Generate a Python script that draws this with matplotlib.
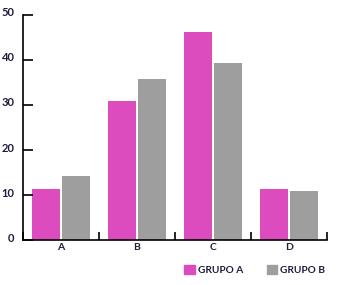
import numpy as np
import matplotlib
matplotlib.use('Agg')
import matplotlib.pyplot as plt
import matplotlib.transforms as mtransforms
from matplotlib.patches import Patch

# Chart data
categories = ['A', 'B', 'C', 'D']
grupo_a = [11.4, 30.8, 46.1, 11.4]
grupo_b = [14.1, 35.7, 39.2, 10.8]
y_ticks = [0, 10, 20, 30, 40, 50]

pink = '#dc4cbe'
gray = '#9e9e9e'
text_color = '#1c1c3c'

plt.rcParams['font.family'] = ['Lato', 'DejaVu Sans']

fig = plt.figure(figsize=(3.47, 2.85), dpi=100)
ax = fig.add_axes([0.0663, 0.158, 0.876, 0.791])

x = np.arange(len(categories)) + 0.5
width = 0.368
ax.bar(x - 0.197, grupo_a, width, color=pink)
ax.bar(x + 0.197, grupo_b, width, color=gray)

ax.set_xlim(0, len(categories))
ax.set_ylim(0, 50)

# y ticks pointing inward, labels sit left of the spine
ax.set_yticks(y_ticks)
ax.set_yticklabels([str(v) for v in y_ticks])
ax.tick_params(axis='y', direction='in', length=7, width=1.2, pad=6,
               labelsize=8, labelcolor=text_color)

# x ticks at category boundaries, labels at centers
ax.set_xticks(np.arange(len(categories) + 1))
ax.set_xticklabels([])
ax.set_xticks(x, minor=True)
ax.set_xticklabels(categories, minor=True)
ax.tick_params(axis='x', which='major', direction='in', length=6, width=1.2)
ax.tick_params(axis='x', which='minor', length=0, pad=2, labelsize=7.5,
               labelcolor=text_color)

# nudge y labels up a little, as in the reference
shift = mtransforms.ScaledTranslation(0, 2 / 72, fig.dpi_scale_trans)
for lab in ax.get_yticklabels():
    lab.set_fontweight('bold')
    lab.set_transform(lab.get_transform() + shift)
for lab in ax.get_xticklabels(minor=True):
    lab.set_fontweight('bold')

for side in ['top', 'right']:
    ax.spines[side].set_visible(False)
for side in ['left', 'bottom']:
    ax.spines[side].set_linewidth(1.2)

handles = [Patch(color=pink, label='GRUPO A'), Patch(color=gray, label='GRUPO B')]
leg = fig.legend(handles=handles, ncol=2, frameon=False, loc='center left',
                 bbox_to_anchor=(0.517, 0.053), handlelength=1.0, handleheight=1.0,
                 handletextpad=0.35, columnspacing=2.3, borderpad=0,
                 prop={'size': 7.3, 'weight': 'bold'})
for t in leg.get_texts():
    t.set_color(text_color)

fig.savefig('out.png', dpi=100)
